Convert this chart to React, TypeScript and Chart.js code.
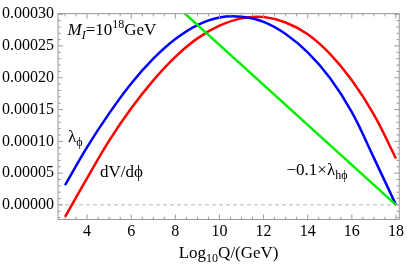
import React, { useEffect, useRef } from "react";
import { Chart, registerables } from "chart.js";

Chart.register(...registerables);

// ---- data ----
const xValues = [3, 4, 5, 6, 7, 8, 9, 10, 11, 12, 13, 14, 15, 16, 17, 18];
const lambdaPhi = [
  0.000031, 0.000091, 0.000144, 0.000191, 0.00023, 0.000261, 0.000283, 0.000295,
  0.000296, 0.000288, 0.000269, 0.00024, 0.0002, 0.000146, 0.000074, 0.0,
];
const dVdPhi = [
  -0.000019, 0.000042, 0.000101, 0.000152, 0.000196, 0.000233, 0.000262, 0.000282,
  0.0002935, 0.0002955, 0.000287, 0.0002685, 0.000238, 0.000196, 0.000142, 0.000073,
];
const lambdaHPhiX = [3, 18];
const lambdaHPhi = [0.000472, 0.0];

const xTicks = [4, 6, 8, 10, 12, 14, 16, 18];
const yTicks = [0, 0.00005, 0.0001, 0.00015, 0.0002, 0.00025, 0.0003];
const xMinorStep = 0.5;
const yMinorStep = 0.00001;

const X_MIN = 2.68;
const X_MAX = 18.15;
const Y_MIN = -0.000023;
const Y_MAX = 0.000301;

const SERIF = '"Liberation Serif", "DejaVu Serif", serif';
const FRAME = "#9a9a9a";

type Seg = { t: string; size: number; dy?: number; italic?: boolean };

function richWidth(ctx: CanvasRenderingContext2D, segs: Seg[]) {
  let w = 0;
  for (const s of segs) {
    ctx.font = `${s.italic ? "italic " : ""}${s.size}px ${SERIF}`;
    w += ctx.measureText(s.t).width;
  }
  return w;
}

function drawRich(ctx: CanvasRenderingContext2D, x: number, y: number, segs: Seg[]) {
  let cx = x;
  ctx.textAlign = "left";
  ctx.textBaseline = "alphabetic";
  ctx.fillStyle = "#000";
  for (const s of segs) {
    ctx.font = `${s.italic ? "italic " : ""}${s.size}px ${SERIF}`;
    ctx.fillText(s.t, cx, y + (s.dy || 0));
    cx += ctx.measureText(s.t).width;
  }
}

const framePlugin = {
  id: "mmaFrame",
  beforeDatasetsDraw(chart: any) {
    const { ctx, chartArea } = chart;
    const ys = chart.scales.y;
    const y0 = ys.getPixelForValue(0);
    ctx.save();
    ctx.strokeStyle = "#b4b4b4";
    ctx.lineWidth = 1;
    ctx.setLineDash([4, 3]);
    ctx.beginPath();
    ctx.moveTo(chartArea.left, y0);
    ctx.lineTo(chartArea.right, y0);
    ctx.stroke();
    ctx.restore();
  },
  afterDraw(chart: any) {
    const { ctx, chartArea } = chart;
    const xs = chart.scales.x;
    const ys = chart.scales.y;
    const { left, right, top, bottom } = chartArea;
    ctx.save();
    ctx.strokeStyle = FRAME;
    ctx.lineWidth = 1;
    ctx.setLineDash([]);
    ctx.strokeRect(left, top, right - left, bottom - top);

    const major = 5;
    const minor = 2.8;
    ctx.beginPath();
    const nx0 = Math.ceil(X_MIN / xMinorStep);
    const nx1 = Math.floor(X_MAX / xMinorStep);
    for (let i = nx0; i <= nx1; i++) {
      const v = i * xMinorStep;
      const isMajor = xTicks.some((t) => Math.abs(t - v) < 1e-9);
      const len = isMajor ? major : minor;
      const px = xs.getPixelForValue(v);
      ctx.moveTo(px, bottom);
      ctx.lineTo(px, bottom - len);
      ctx.moveTo(px, top);
      ctx.lineTo(px, top + len);
    }
    const ny0 = Math.ceil(Y_MIN / yMinorStep - 1e-9);
    const ny1 = Math.floor(Y_MAX / yMinorStep + 1e-9);
    for (let i = ny0; i <= ny1; i++) {
      const v = i * yMinorStep;
      const isMajor = yTicks.some((t) => Math.abs(t - v) < 1e-12);
      const len = isMajor ? major : minor;
      const py = ys.getPixelForValue(v);
      ctx.moveTo(left, py);
      ctx.lineTo(left + len, py);
      ctx.moveTo(right, py);
      ctx.lineTo(right - len, py);
    }
    ctx.stroke();

    drawRich(ctx, 67.5, 35, [
      { t: "M", size: 17, italic: true },
      { t: "I", size: 12, dy: 4, italic: true },
      { t: "=10", size: 17 },
      { t: "18", size: 12, dy: -7 },
      { t: "GeV", size: 17 },
    ]);
    drawRich(ctx, 68, 141.5, [
      { t: "λ", size: 17 },
      { t: "ϕ", size: 12, dy: 4 },
    ]);
    drawRich(ctx, 100, 176.5, [{ t: "dV/dϕ", size: 17 }]);
    drawRich(ctx, 286.5, 175, [
      { t: "−0.1×λ", size: 17 },
      { t: "hϕ", size: 12, dy: 4 },
    ]);

    const title: Seg[] = [
      { t: "Log", size: 17 },
      { t: "10", size: 12, dy: 4 },
      { t: "Q/(GeV)", size: 17 },
    ];
    const w = richWidth(ctx, title);
    drawRich(ctx, (left + right) / 2 - w / 2, 258, title);
    ctx.restore();
  },
};

export default function App() {
  const ref = useRef<HTMLCanvasElement | null>(null);

  useEffect(() => {
    document.body.style.margin = "0";
    const canvas = ref.current;
    if (!canvas) return;
    const chart = new Chart(canvas, {
      type: "line",
      data: {
        datasets: [
          {
            label: "-0.1 lambda_hphi",
            data: lambdaHPhiX.map((x, i) => ({ x, y: lambdaHPhi[i] })),
            borderColor: "#00ee00",
            borderWidth: 2.5,
            tension: 0,
          },
          {
            label: "lambda_phi",
            data: xValues.map((x, i) => ({ x, y: lambdaPhi[i] })),
            borderColor: "#0000ff",
            borderWidth: 2.5,
            tension: 0.4,
          },
          {
            label: "dV/dphi",
            data: xValues.map((x, i) => ({ x, y: dVdPhi[i] })),
            borderColor: "#ff0000",
            borderWidth: 2.5,
            tension: 0.4,
          },
        ],
      },
      options: {
        animation: false,
        responsive: false,
        layout: { padding: { top: 6.5, right: 5.3, left: 0, bottom: 0 } },
        plugins: { legend: { display: false }, tooltip: { enabled: false } },
        elements: { point: { radius: 0 } },
        scales: {
          x: {
            type: "linear",
            min: X_MIN,
            max: X_MAX,
            grid: { display: false, drawTicks: false },
            border: { display: false },
            ticks: {
              font: { family: SERIF, size: 16 },
              color: "#000",
              padding: 3,
              maxRotation: 0,
              autoSkip: false,
            },
            afterBuildTicks: (s: any) => {
              s.ticks = xTicks.map((v) => ({ value: v }));
            },
            afterFit: (s: any) => {
              s.height = 48.5;
            },
          },
          y: {
            type: "linear",
            min: Y_MIN,
            max: Y_MAX,
            grid: { display: false, drawTicks: false },
            border: { display: false },
            ticks: {
              font: { family: SERIF, size: 16 },
              color: "#000",
              padding: 4,
              callback: (v: any) => Number(v).toFixed(5),
            },
            afterBuildTicks: (s: any) => {
              s.ticks = yTicks.map((v) => ({ value: v }));
            },
            afterFit: (s: any) => {
              s.width = 58;
            },
          },
        },
      },
      plugins: [framePlugin],
    });
    return () => chart.destroy();
  }, []);

  return (
    <div style={{ width: 407, height: 268 }}>
      <canvas ref={ref} width={407} height={268} />
    </div>
  );
}
